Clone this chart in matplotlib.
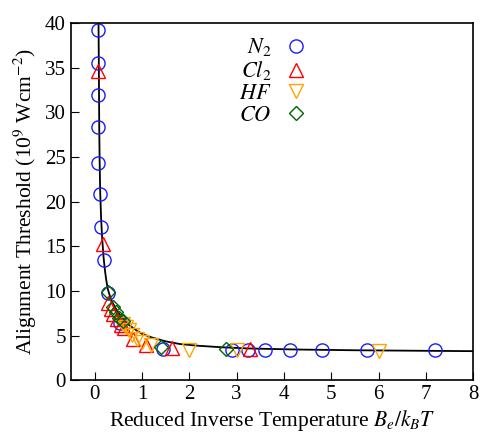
import matplotlib
matplotlib.use("Agg")
import matplotlib.pyplot as plt

plt.rcParams['font.family'] = ['Liberation Serif', 'DejaVu Serif']
plt.rcParams['mathtext.fontset'] = 'stix'

# -----------------------------
# Data
# -----------------------------
n2_x = [0.07, 0.07, 0.07, 0.07, 0.08, 0.12, 0.14, 0.19, 0.28, 0.54,
        1.45, 2.9, 3.25, 3.6, 4.12, 4.8, 5.75, 7.2]
n2_y = [39.2, 35.5, 31.9, 28.3, 24.3, 20.9, 17.1, 13.5, 9.8, 6.4,
        3.5, 3.4, 3.4, 3.4, 3.4, 3.4, 3.4, 3.4]

cl2_x = [0.07, 0.17, 0.29, 0.35, 0.4, 0.47, 0.55, 0.63, 0.82, 1.08, 1.64, 3.28]
cl2_y = [34.6, 15.3, 8.6, 8.0, 7.4, 6.9, 6.2, 5.8, 4.6, 3.9, 3.6, 3.5]

hf_x = [0.6, 0.66, 0.73, 0.8, 0.9, 1.0, 1.2, 2.0, 3.0, 6.0]
hf_y = [6.3, 6.0, 5.6, 5.1, 4.6, 4.3, 3.9, 3.4, 3.4, 3.3]

co_x = [0.28, 0.38, 0.45, 0.52, 0.6, 1.4, 2.78]
co_y = [9.9, 8.2, 7.6, 7.0, 6.6, 3.7, 3.5]

fit_x = [0.084, 0.09, 0.095, 0.1, 0.108, 0.12, 0.14, 0.16, 0.19, 0.22,
         0.245, 0.28, 0.35, 0.45, 0.55, 0.7, 0.85, 1.0, 1.2, 1.5, 1.8,
         2.2, 2.7, 3.25, 4.3, 5.5, 7.2, 8.0]
fit_y = [40, 36, 32, 28, 24.5, 21, 18, 16, 13.8, 12.3,
         11.3, 10.2, 9.0, 8.0, 7.2, 6.3, 5.7, 5.2, 4.8, 4.35, 4.05,
         3.85, 3.68, 3.55, 3.43, 3.35, 3.28, 3.25]

# -----------------------------
# Plot
# -----------------------------
fig = plt.figure(figsize=(4.82, 4.33), dpi=100)
ax = fig.add_axes([0.147, 0.122, 0.835, 0.825])

ms = 9.5
ax.plot(fit_x, fit_y, color='black', linewidth=1.3, zorder=1)
ax.plot(n2_x, n2_y, 'o', ms=ms, mfc='none', mec='#1a1aff', mew=1.0,
        label=r'$N_2$')
ax.plot(cl2_x, cl2_y, '^', ms=ms, mfc='none', mec='#ff0000', mew=1.0,
        label=r'$Cl_2$')
ax.plot(hf_x, hf_y, 'v', ms=ms, mfc='none', mec='#ffa500', mew=1.0,
        label=r'$HF$')
ax.plot(co_x, co_y, 'D', ms=ms * 0.72, mfc='none', mec='#006400', mew=1.0,
        label=r'$CO$')

ax.set_xlim(-0.5, 8)
ax.set_ylim(0, 40)
ax.set_xticks(range(0, 9))
ax.set_yticks(range(0, 41, 5))
ax.tick_params(direction='in', length=6, labelsize=15, top=False, right=False)
for s in ax.spines.values():
    s.set_linewidth(1.2)

ax.set_xlabel(r'Reduced Inverse Temperature $B_e/k_BT$', fontsize=15.5, labelpad=3)
ax.set_ylabel(r'Alignment Threshold (10$^9$ Wcm$^{-2}$)', fontsize=15.5, labelpad=4)

ax.legend(loc='upper right', bbox_to_anchor=(0.62, 1.0), frameon=False,
          markerfirst=False, fontsize=16, handlelength=1.0,
          handletextpad=0.6, labelspacing=0.05, borderaxespad=0.2)

fig.savefig('out.png', dpi=100)
